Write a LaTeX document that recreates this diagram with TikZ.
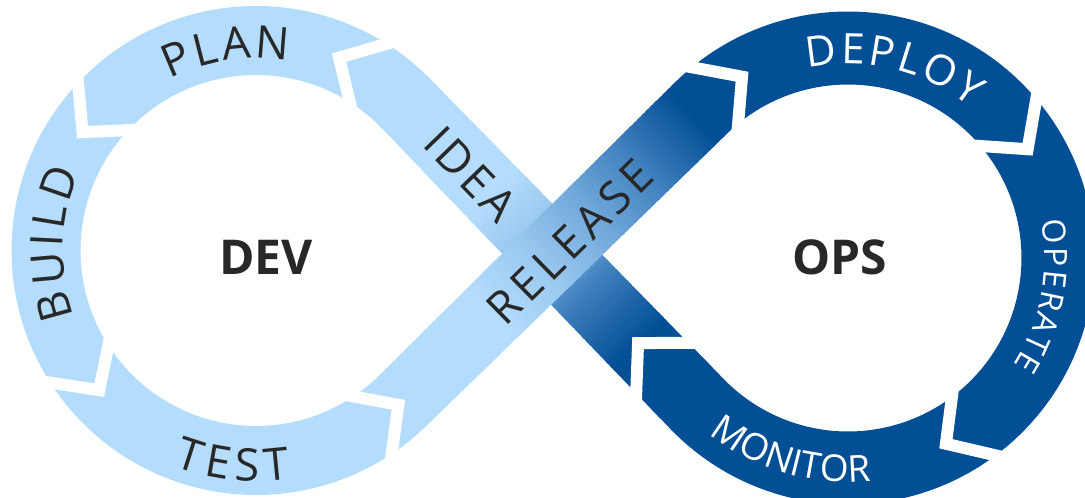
\documentclass[tikz,border=0pt]{standalone}
\usepackage{fontspec}
\newfontfamily\lf{Open Sans}
\newfontfamily\lfs[LetterSpace=8]{Open Sans}
\newfontfamily\lfr[LetterSpace=12]{Open Sans}
\usetikzlibrary{calc}
\definecolor{lb}{RGB}{180,220,253}
\definecolor{db}{RGB}{2,79,150}
\definecolor{i1}{RGB}{141,189,230}
\definecolor{i2}{RGB}{63,127,189}
\definecolor{m1}{RGB}{156,202,240}
\definecolor{m2}{RGB}{117,172,221}
\definecolor{m3}{RGB}{64,128,190}
\definecolor{lbl}{RGB}{40,40,40}
% straight band slices: uses \bax \bay \bdx \bdy \bnx \bny
\newcommand\bandpart[5]{%
  \foreach \k in {1,...,#5}{%
    \pgfmathsetmacro\ta{#1+(#2-#1)*(\k-1)/#5}%
    \pgfmathsetmacro\tb{min(#1+(#2-#1)*(\k+0.6)/#5,1.004)}%
    \pgfmathtruncatemacro\pc{100*(\k-0.5)/#5}%
    \pgfmathsetmacro\wa{34.5+2*\ta}%
    \pgfmathsetmacro\wb{34.5+2*\tb}%
    \pgfmathsetmacro\xa{\bax+\ta*\bdx}\pgfmathsetmacro\ya{\bay+\ta*\bdy}%
    \pgfmathsetmacro\xb{\bax+\tb*\bdx}\pgfmathsetmacro\yb{\bay+\tb*\bdy}%
    \pgfmathsetmacro\pax{\xa+\wa*\bnx}\pgfmathsetmacro\pay{\ya+\wa*\bny}%
    \pgfmathsetmacro\pbx{\xb+\wb*\bnx}\pgfmathsetmacro\pby{\yb+\wb*\bny}%
    \pgfmathsetmacro\qbx{\xb-\wb*\bnx}\pgfmathsetmacro\qby{\yb-\wb*\bny}%
    \pgfmathsetmacro\qax{\xa-\wa*\bnx}\pgfmathsetmacro\qay{\ya-\wa*\bny}%
    \fill[#4!\pc!#3] (\pax,\pay) -- (\pbx,\pby) -- (\qbx,\qby) -- (\qax,\qay) -- cycle;
  }%
}
% letters along an arc: #1 centre, #2 mid angle, #3 baseline radius,
% #4 direction (1 = tops outward, -1 = tops inward), #5 size, #6 colour,
% #7 list letter/offset (offset of letter centre from word centre, in em)
\newcommand\arcword[7]{%
  \foreach \ch/\off in {#7}{%
    \pgfmathsetmacro\awang{#2-(#4)*(\off)*#5/(#3)*180/pi}%
    \pgfmathsetmacro\awrot{\awang-(#4)*90}%
    \node[font=\fontsize{#5}{#5}\selectfont\lf, text=#6, anchor=base, rotate=\awrot, inner sep=0pt] at ($(#1)+(\awang:#3)$) {\ch};
  }%
}
\tikzset{gapline/.style={white, line width=12pt, line join=miter}}
\newcommand\chev[6]{%
  \coordinate (ck) at ($(#1)+({#2+#3*9}:#4)$);
  \coordinate (co) at ($(#1)+(#2:#5)$);
  \coordinate (ci) at ($(#1)+(#2:#6)$);
  \draw[gapline] ($(ck)!1.5!(co)$) -- (ck) -- ($(ck)!1.5!(ci)$);
}
\begin{document}
\begin{tikzpicture}[x=1pt,y=1pt]
\useasboundingbox (0,0) rectangle (1085,498);
\clip (0,0) rectangle (1085,498);
\coordinate (L) at (256,247.5);
\coordinate (R) at (848,240);
\coordinate (T1) at (406.87,393.58);
\coordinate (T2) at (697.13,93.92);
\coordinate (T3) at (403.10,97.63);
\coordinate (T4) at (700.90,389.87);
% loops
\draw[lb, line width=69pt] (T1) arc[start angle=44.08, end angle=314.46, radius=210];
\draw[db, line width=73pt] (T4) arc[start angle=134.46, end angle=-135.92, radius=210];
% IDEA band
\def\bax{406.87}\def\bay{393.58}\def\bdx{290.26}\def\bdy{-299.66}\def\bnx{0.71827}\def\bny{0.69574}
\bandpart{-0.004}{0.3}{lb}{lb}{2}
\bandpart{0.3}{0.48}{lb}{i1}{15}
\bandpart{0.48}{0.62}{i1}{i2}{15}
\bandpart{0.62}{0.8}{i2}{db}{15}
\bandpart{0.8}{1.004}{db}{db}{2}
% RELEASE band
\def\bax{403.10}\def\bay{97.63}\def\bdx{297.80}\def\bdy{292.24}\def\bnx{-0.70046}\def\bny{0.71380}
\bandpart{-0.004}{0.3}{lb}{lb}{2}
\bandpart{0.3}{0.45}{lb}{m1}{12}
\bandpart{0.45}{0.62}{m1}{m2}{12}
\bandpart{0.62}{0.8}{m2}{m3}{12}
\bandpart{0.8}{0.97}{m3}{db}{12}
\bandpart{0.97}{1.004}{db}{db}{2}
% gaps
\chev{L}{57.7}{1}{210}{244.5}{175.5}
\chev{L}{136.7}{1}{210}{244.5}{175.5}
\chev{L}{212.7}{1}{210}{244.5}{175.5}
\chev{L}{303.7}{1}{210}{244.5}{175.5}
\chev{R}{129.3}{-1}{210}{246.5}{173.5}
\chev{R}{40.2}{-1}{210}{246.5}{173.5}
\chev{R}{-53.2}{-1}{210}{246.5}{173.5}
\coordinate (G) at ($(T2)!50.4pt!(T1)$);
\coordinate (GK) at ($(T2)!84.9pt!(T1)$);
\coordinate (GO) at ($(G)!36pt!90:(T1)$);
\coordinate (GI) at ($(G)!36pt!-90:(T1)$);
\draw[gapline] ($(GK)!1.5!(GO)$) -- (GK) -- ($(GK)!1.5!(GI)$);
% labels
\arcword{L}{98.5}{192}{1}{45}{lbl}{P/-1.056,L/-0.426,A/0.219,N/0.980}
\arcword{L}{178}{193}{1}{45}{lbl}{B/-1.309,U/-0.531,I/0.0625,L/0.553,D/1.2685}
\arcword{L}{263.8}{231}{-1}{45}{lbl}{T/-1.048,E/-0.3445,S/0.353,T/1.048}
\arcword{R}{76.5}{194}{1}{42}{white}{D/-1.689,E/-0.975,P/-0.3237,L/0.3117,O/1.0356,Y/1.7755}
\arcword{R}{-11}{197}{1}{32}{white}{O/-1.9545,P/-1.1995,E/-0.557,R/0.1005,A/0.7965,T/1.451,E/2.067}
\arcword{R}{253.8}{224}{-1}{37}{white}{M/-1.89,O/-1.048,N/-0.2805,I/0.236,T/0.651,O/1.317,R/2.0245}
\node[font=\fontsize{45}{54}\selectfont\lfs, text=lbl, rotate=-45.9, inner sep=0pt] (idea) at (471,324) {IDEA};
\node[font=\fontsize{45}{54}\selectfont\lfr, text=lbl, rotate=44.46, inner sep=0pt] (release) at (570,256) {RELEASE};
\node[font=\fontsize{48}{56}\selectfont\lf\bfseries, text=lbl, inner sep=0pt] (dev) at (266,241) {DEV};
\node[font=\fontsize{48}{56}\selectfont\lf\bfseries, text=lbl, inner sep=0pt] (ops) at (840,241) {OPS};
\end{tikzpicture}
\end{document}
